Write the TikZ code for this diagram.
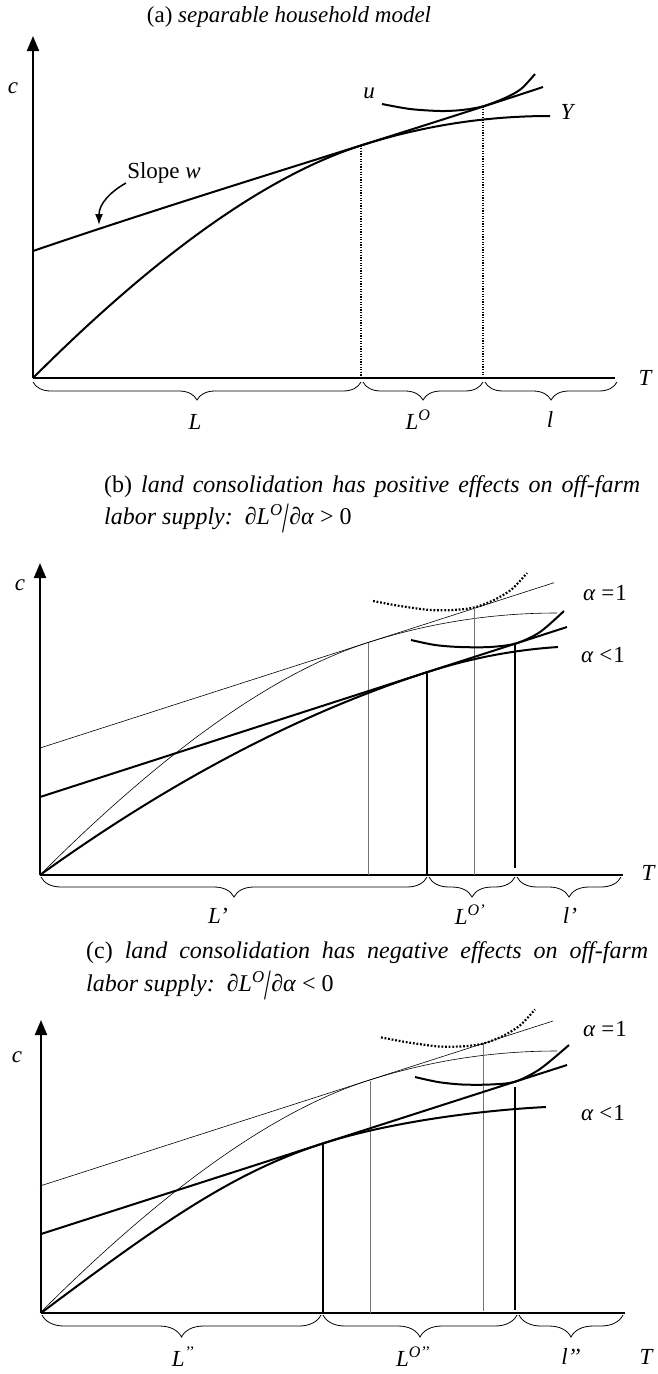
\documentclass[tikz,border=0pt]{standalone}
\usepackage{fontspec}
\setmainfont{Liberation Serif}
\usepackage{graphicx}
\usetikzlibrary{arrows.meta,decorations.pathreplacing}
\newcommand{\tallslash}{\raisebox{-0.3em}{\scalebox{1}[1.8]{/}}}
\newcommand{\ycurveA}[1]{(33,378) .. controls (158,253) and (267.4,175.5) .. (361,145.5) .. controls (422.5,125.8) and (485.4,116) .. (550,116)}
\begin{document}
\begin{tikzpicture}[x=1pt,y=-1pt,
  thickc/.style={line width=2pt, line join=round},
  thinc/.style={line width=0.6pt},
  axisx/.style={line width=2.4pt},
  axisy/.style={line width=2pt,-{Triangle[length=15pt,width=12pt]}},
  dotv/.style={line width=1.3pt, dash pattern=on 1.3pt off 1.3pt},
  dotu/.style={line width=2.2pt, dash pattern=on 1.8pt off 1.8pt},
  thinv/.style={line width=0.6pt, black!55},
  brc/.style={decorate, decoration={brace, mirror, amplitude=#1}, line width=0.8pt},
  brc/.default=18pt,
  lab/.style={font=\fontsize{23}{27}\selectfont\itshape, inner sep=0pt},
  captxt/.style={font=\fontsize{24}{28}\selectfont, inner sep=0pt, anchor=west},
  rom/.style={font=\fontsize{23}{27}\selectfont, inner sep=0pt},
]
\useasboundingbox (0,0) rectangle (658,1374);

% ================= Panel (a) =================
\node[rom] (tA) at (289,17) {(a) \textit{separable household model}};
\coordinate (Oa) at (33,378);
\coordinate (Ya) at (33,36);
\coordinate (Xa) at (615,378);
\draw[axisy] (Oa) -- (Ya);
\draw[axisx] (Oa) -- (Xa);
\node[lab] (ca) at (13,88) {c};
\node[lab] (Ta) at (645,378) {T};
\draw[thickc] \ycurveA{};
\node[lab] (Yl) at (567,112) {Y};
\coordinate (Wa0) at (33,251);
\coordinate (Wa1) at (543,87);
\draw[thickc] (Wa0) .. controls (200,194) and (380,141) .. (Wa1);
\draw[thickc] plot[smooth] coordinates {(382,104) (410,109) (440,111) (462,110) (483,106.3) (505,98) (521,89) (535,74)};
\node[lab] (ul) at (369,93) {u};
\coordinate (Pa1) at (361,145.5);
\coordinate (Pa2) at (483,106.3);
\draw[dotv] (Pa1) -- (Pa1 |- Oa);
\draw[dotv] (Pa2) -- (Pa2 |- Oa);
\node[rom] (sw) at (164,173) {Slope \textit{w}};
\coordinate (swa) at (126,183);
\coordinate (swb) at (99,225);
\draw[line width=1.5pt, -{Latex[length=11pt,width=8pt]}] (swa) .. controls (110,192) and (99,204) .. (swb);
\draw[brc] (33,382) -- (361,382);
\draw[brc] (363,382) -- (483,382);
\draw[brc] (485,382) -- (617,382);
\node[lab] (La) at (195,422) {L};
\node[lab] (LOa) at (418,420) {L\textsuperscript{O}};
\node[lab] (la) at (550,420) {l};

% ================= Caption (b) =================
\node[captxt] (tB1) at (104,487) {\makebox[536pt][s]{(b) \textit{land consolidation has positive effects on off-farm}}};
\node[captxt] (tB2) at (104,518) {\textit{labor supply:}\ \ ∂\textit{L}\textsuperscript{\textit{O}}\tallslash∂\textit{α} > 0};

% ================= Panel (b) =================
\coordinate (Ob) at (40,875);
\coordinate (Yb) at (40,563);
\coordinate (Xb) at (623,875);
\draw[axisy] (Ob) -- (Yb);
\draw[axisx] (Ob) -- (Xb);
\node[lab] (cb) at (20,585) {c};
\node[lab] (Tb) at (648,873) {T};
% alpha = 1 (thin)
\begin{scope}[shift={(7,497)}]
\draw[thinc] \ycurveA{};
\end{scope}
\coordinate (Wb0) at (40,748);
\coordinate (Wb1) at (554,582.7);
\draw[thinc] (Wb0) -- (Wb1);
\draw[dotu] plot[smooth] coordinates {(373,601) (400,606) (430,610) (453,610) (474,607.5) (494,600) (512,589) (527,573)};
\coordinate (Qb1) at (368,642.5);
\coordinate (Qb2) at (474,607.5);
\draw[thinv] (Qb1) -- (Qb1 |- Ob);
\draw[thinv] (Qb2) -- (Qb2 |- Ob);
% alpha < 1 (thick)
\coordinate (Vb0) at (40,797);
\coordinate (Vb1) at (567,627);
\draw[thickc] (Vb0) -- (Vb1);
\draw[thickc] (40,875) .. controls (170.9,780.8) and (299.7,713.2) .. (427,672.2) .. controls (470,658.3) and (513.6,649.9) .. (558,647);
\draw[thickc] plot[smooth] coordinates {(411,640) (435,645) (460,647) (490,647) (516,643.4) (540,632) (564,611)};
\coordinate (Rb1) at (427,672.2);
\coordinate (Rb2) at (515,644);
\draw[thickc] (Rb1) -- (Rb1 |- Ob);
\draw[thickc] (Rb2) -- (515,868);
\node[rom] (a1b) at (605,593) {\textit{α}\hspace{0.25em}=\hspace{0.05em}1};
\node[rom] (a2b) at (603,655) {\textit{α}\hspace{0.25em}<\hspace{0.05em}1};
\draw[brc=20pt] (41,877) -- (427,877);
\draw[brc=20pt] (429,877) -- (515,877);
\draw[brc=20pt] (517,877) -- (621,877);
\node[lab] (Lb) at (218,916) {L’};
\node[lab] (LOb) at (470,915) {L\textsuperscript{O’}};
\node[lab] (lb) at (570,916) {l’};

% ================= Caption (c) =================
\node[captxt] (tC1) at (86,953) {\makebox[562pt][s]{(c) \textit{land consolidation has negative effects on off-farm}}};
\node[captxt] (tC2) at (86,985) {\textit{labor supply:}\ \ ∂\textit{L}\textsuperscript{\textit{O}}\tallslash∂\textit{α} < 0};

% ================= Panel (c) =================
\coordinate (Oc) at (41,1313);
\coordinate (Yc) at (41,1020);
\coordinate (Xc) at (625,1313);
\draw[axisy] (Oc) -- (Yc);
\draw[axisx] (Oc) -- (Xc);
\node[lab] (cc) at (17,1057) {c};
\node[lab] (Tc) at (646,1357) {T};
% alpha = 1 (thin)
\begin{scope}[shift={(7,935)}]
\draw[thinc] \ycurveA{};
\end{scope}
\coordinate (Wc0) at (40,1186);
\coordinate (Wc1) at (553,1021);
\draw[thinc] (Wc0) -- (Wc1);
\draw[dotu] plot[smooth] coordinates {(381,1037.4) (408,1042.4) (438,1046.4) (461,1046.4) (482,1043.9) (502,1036.4) (520,1025.4) (535,1009.4)};
\coordinate (Qc1) at (370,1080.5);
\coordinate (Qc2) at (483,1043.9);
\draw[thinv] (Qc1) -- (Qc1 |- Oc);
\draw[thinv] (Qc2) -- (483,1311);
% alpha < 1 (thick)
\coordinate (Vc0) at (41,1234);
\coordinate (Vc1) at (567,1065);
\draw[thickc] (Vc0) -- (Vc1);
\draw[thickc] (41,1313) .. controls (161,1223) and (233,1172.3) .. (323,1143.4) .. controls (393,1120.9) and (486,1110) .. (546,1107);
\draw[thickc] plot[smooth] coordinates {(415,1077) (438,1082) (462,1084.5) (490,1084.5) (515,1081.7) (540,1069) (569,1045)};
\coordinate (Rc1) at (323,1143.4);
\coordinate (Rc2) at (515,1087);
\draw[thickc] (Rc1) -- (Rc1 |- Oc);
\draw[thickc] (Rc2) -- (515,1310);
\node[rom] (a1c) at (605,1029) {\textit{α}\hspace{0.25em}=\hspace{0.05em}1};
\node[rom] (a2c) at (603,1113) {\textit{α}\hspace{0.25em}<\hspace{0.05em}1};
\draw[brc=22pt] (42,1315) -- (321,1315);
\draw[brc=22pt] (323,1315) -- (517,1315);
\draw[brc=22pt] (519,1315) -- (623,1315);
\node[lab] (Lc) at (183,1357) {L\textsuperscript{’’}};
\node[lab] (LOc) at (413,1357) {L\textsuperscript{O’’}};
\node[lab] (lc) at (571,1357) {l’’};
\end{tikzpicture}
\end{document}
